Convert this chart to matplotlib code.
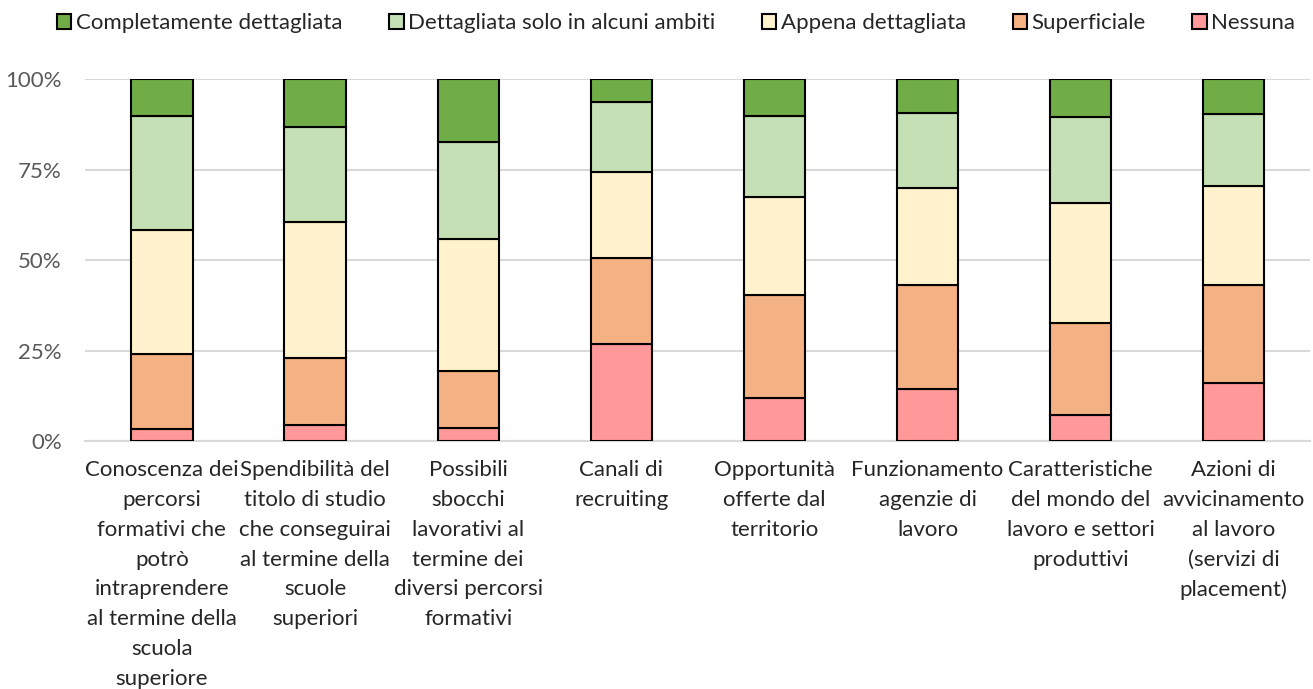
import numpy as np
import matplotlib.pyplot as plt
from matplotlib.ticker import FuncFormatter

# categorie (asse x)
categorie = ["Conoscenza dei\npercorsi\nformativi che\npotrò\nintraprendere\nal termine della\nscuola\nsuperiore",
             "Spendibilità del\ntitolo di studio\nche conseguirai\nal termine della\nscuole\nsuperiori",
             "Possibili\nsbocchi\nlavorativi al\ntermine dei\ndiversi percorsi\nformativi",
             "Canali di\nrecruiting",
             "Opportunità\nofferte dal\nterritorio",
             "Funzionamento\nagenzie di\nlavoro",
             "Caratteristiche\ndel mondo del\nlavoro e settori\nproduttivi",
             "Azioni di\navvicinamento\nal lavoro\n(servizi di\nplacement)"]

# valori in percentuale (dal basso verso l'alto)
nessuna = [3.3, 4.5, 3.6, 26.7, 11.8, 14.5, 7.1, 15.9]
superficiale = [20.8, 18.4, 15.8, 23.9, 28.5, 28.5, 25.4, 27.3]
appena = [34.3, 37.7, 36.3, 23.8, 27.1, 26.8, 33.4, 27.3]
dettagliata_alcuni = [31.4, 26.1, 27.0, 19.3, 22.3, 20.8, 23.7, 19.9]
completamente = [10.2, 13.3, 17.3, 6.3, 10.3, 9.4, 10.4, 9.6]

serie = [("Nessuna", nessuna, "#FF9999"),
         ("Superficiale", superficiale, "#F4B183"),
         ("Appena dettagliata", appena, "#FFF2CC"),
         ("Dettagliata solo in alcuni ambiti", dettagliata_alcuni, "#C5E0B4"),
         ("Completamente dettagliata", completamente, "#70AD47")]

plt.rcParams['font.family'] = ['Lato', 'DejaVu Sans']

fig = plt.figure(figsize=(13.13, 6.89), dpi=100)
ax = fig.add_axes([0.065, 0.36, 0.933, 0.525])

x = np.arange(len(categorie))
bottom = np.zeros(len(categorie))
handles = {}
for nome, vals, col in serie:
    vals = np.array(vals)
    b = ax.bar(x, vals, 0.4, bottom=bottom, color=col, edgecolor='black', linewidth=1.5, label=nome, zorder=3)
    handles[nome] = b
    bottom += vals

ax.set_xlim(-0.5, len(categorie) - 0.5)
ax.set_ylim(0, 100)
ax.set_yticks([0, 25, 50, 75, 100])
ax.yaxis.set_major_formatter(FuncFormatter(lambda v, p: f"{v:.0f}%"))
ax.grid(axis='y', color='#D9D9D9', linewidth=1.5, zorder=0)
ax.set_xticks(x)
ax.set_xticklabels(categorie, fontsize=16, color='#262626', linespacing=1.61)
ax.tick_params(axis='both', length=0)
ax.tick_params(axis='y', labelsize=16, labelcolor='#595959', pad=17)
ax.tick_params(axis='x', pad=14)
for s in ['top', 'right', 'left']:
    ax.spines[s].set_visible(False)
ax.spines['bottom'].set_color('#D9D9D9')
ax.spines['bottom'].set_linewidth(1.5)

ordine = ["Completamente dettagliata", "Dettagliata solo in alcuni ambiti", "Appena dettagliata", "Superficiale", "Nessuna"]
fig.legend([handles[n] for n in ordine], ordine, loc='upper center', bbox_to_anchor=(0.515, 1.01), ncol=5,
           frameon=False, fontsize=16, handlelength=0.65, handleheight=0.65, handletextpad=0.2,
           columnspacing=2.1, labelcolor='#262626')

fig.savefig("out.png", dpi=100)
